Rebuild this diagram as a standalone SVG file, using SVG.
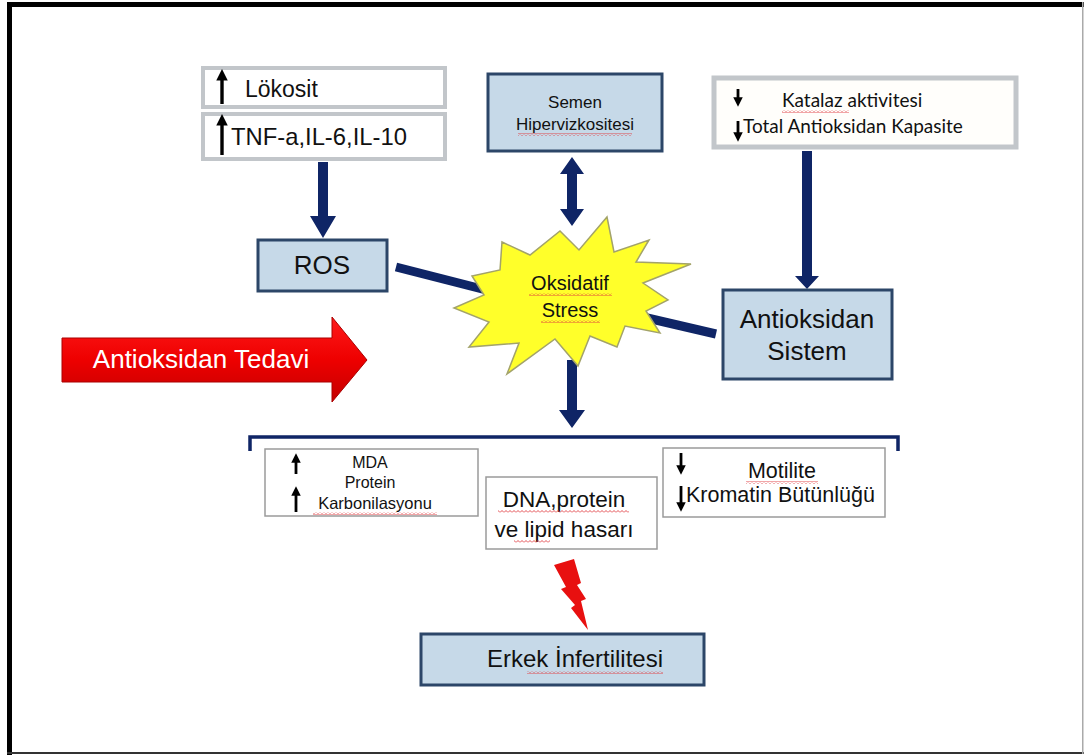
<svg xmlns="http://www.w3.org/2000/svg" width="1084" height="755" viewBox="0 0 1084 755">
<style>
.t{font-family:"Liberation Sans",Arial,sans-serif;fill:#111}
.c{font-family:Lato,"Liberation Sans",sans-serif;fill:#111}
.blue{fill:#c6d9e8;stroke:#2c4668;stroke-width:3}
.gray{fill:#fff;stroke:#c2c6ca;stroke-width:4}
.thin{fill:#fff;stroke:#9a9a9a;stroke-width:1.5}
.navy{fill:#0f2566}
.bar{stroke:#0f2566;stroke-width:9;fill:none}
.ka{stroke:#000;stroke-width:3.4;fill:none;marker-end:url(#ah)}
.kb{stroke:#000;stroke-width:2.8;fill:none;marker-end:url(#ah)}
.sq{fill:url(#squig)}
</style>
<defs>
<marker id="ah" viewBox="0 0 10 10" refX="4" refY="5" markerWidth="3.4" markerHeight="3.4" orient="auto" markerUnits="strokeWidth">
<path d="M0,0 L10,5 L0,10 Z" fill="#000"/>
</marker>
<pattern id="squig" width="4" height="3" patternUnits="userSpaceOnUse">
<path d="M0,2.5 L2,0.5 L4,2.5" stroke="#e0393e" stroke-width="0.9" fill="none"/>
</pattern>
<linearGradient id="red" x1="0" y1="0" x2="0" y2="1">
<stop offset="0" stop-color="#ff1a1a"/>
<stop offset="0.5" stop-color="#ee0000"/>
<stop offset="1" stop-color="#c40000"/>
</linearGradient>
</defs>
<rect x="0" y="0" width="1084" height="755" fill="#fff"/>
<g id="frame">
<rect x="7" y="2" width="1077" height="5" fill="#000"/>
<rect x="7" y="2" width="5" height="753" fill="#000"/>
<rect x="7" y="752" width="1077" height="2" fill="#333"/>
<rect x="1082" y="2" width="1.5" height="752" fill="#aaa"/>
</g>
<g id="connectors">
<polygon class="navy" points="318,162 328,162 328,216 336,216 323,238 310,216 318,216"/>
<polygon class="navy" points="572,157 584,174 577,174 577,209 584,209 572,226 560,209 567,209 567,174 560,174"/>
<polygon class="navy" points="802,151 812,151 812,276 819,276 807,289 795,276 802,276"/>
<polygon class="navy" points="567,360 577,360 577,410 585,410 572,428 559,410 567,410"/>
<line class="bar" x1="396" y1="267" x2="490" y2="291"/>
<line class="bar" x1="630" y1="314" x2="716" y2="334"/>
<path d="M250,451 L250,437 L898,437 L898,451" stroke="#0f2566" stroke-width="3.5" fill="none"/>
<polygon fill="#e81010" points="554,565 574,559 581,583 577,585 586,599 581,601 588,630 571,608 575,605 561,589 566,587"/>
</g>
<g id="lokosit">
<rect class="gray" x="203" y="68" width="242" height="39"/>
<line class="ka" x1="222" y1="104" x2="222" y2="76"/>
<text class="t" x="245" y="97" font-size="23">Lökosit</text>
</g>
<g id="tnf">
<rect class="gray" x="203" y="114" width="242" height="45"/>
<line class="ka" x1="222" y1="155" x2="222" y2="121"/>
<text class="t" x="231" y="145" font-size="23.8">TNF-a,IL-6,IL-10</text>
</g>
<g id="semen">
<rect class="blue" x="488" y="74" width="174" height="77"/>
<text class="t" x="575" y="108" font-size="17" text-anchor="middle">Semen</text>
<text class="t" x="575" y="130" font-size="17" text-anchor="middle">Hipervizkositesi</text>
<rect class="sq" x="518" y="133" width="114" height="3"/>
</g>
<g id="katalaz">
<rect fill="#fffefb" stroke="#c2c6ca" stroke-width="5" x="714" y="78" width="302" height="69"/>
<line class="kb" x1="738" y1="89" x2="738" y2="101"/>
<line class="kb" x1="738" y1="121" x2="738" y2="136"/>
<text class="c" x="782" y="107" font-size="19">Katalaz aktivitesi</text>
<rect class="sq" x="782" y="110" width="67" height="3"/>
<text class="c" x="743" y="133" font-size="19">Total Antioksidan Kapasite</text>
</g>
<g id="ros">
<rect class="blue" x="258" y="240" width="129" height="51"/>
<text class="t" x="322" y="274" font-size="26" text-anchor="middle">ROS</text>
</g>
<g id="stress">
<polygon fill="#ffff2a" stroke="#a3a36a" stroke-width="1.5" points="607,217 614,252 649,240 636,262 691,264 643,283 668,300 646,311 660,333 625,326 617,347 590,336 578,366 555,339 507,374 519,343 469,347 489,322 454,308 484,295 472,276 500,270 502,242 530,255 560,231 579,250"/>
<text class="t" x="570" y="290" font-size="20" text-anchor="middle">Oksidatif</text>
<rect class="sq" x="529" y="293" width="83" height="3"/>
<text class="t" x="570" y="317" font-size="20" text-anchor="middle">Stress</text>
<rect class="sq" x="541" y="320" width="59" height="3"/>
</g>
<g id="antioksidan">
<rect class="blue" x="723" y="290" width="169" height="89"/>
<text class="t" x="807" y="328" font-size="26" text-anchor="middle">Antioksidan</text>
<text class="t" x="807" y="360" font-size="26" text-anchor="middle">Sistem</text>
</g>
<g id="tedavi">
<polygon fill="url(#red)" stroke="#a00" stroke-width="1" points="62,338 332,338 332,317 367,360 332,402 332,382 62,382"/>
<text x="201" y="368" font-size="26" text-anchor="middle" style="font-family:'Liberation Sans',Arial,sans-serif;fill:#fff">Antioksidan Tedavi</text>
</g>
<g id="mda">
<rect class="thin" x="265" y="449" width="213" height="67"/>
<line class="kb" x1="296" y1="474" x2="296" y2="459"/>
<line class="kb" x1="296" y1="512" x2="296" y2="492"/>
<text class="t" x="370" y="468" font-size="16" text-anchor="middle">MDA</text>
<text class="t" x="370" y="488" font-size="16" text-anchor="middle">Protein</text>
<text class="t" x="375" y="509" font-size="16.5" text-anchor="middle">Karbonilasyonu</text>
<rect class="sq" x="313" y="512" width="124" height="3"/>
</g>
<g id="dna">
<rect class="thin" x="486" y="477" width="171" height="72"/>
<text class="t" x="564" y="507" font-size="22.5" text-anchor="middle">DNA,protein</text>
<rect class="sq" x="498" y="510" width="131" height="3"/>
<text class="t" x="564" y="537" font-size="22.5" text-anchor="middle">ve lipid hasarı</text>
<rect class="sq" x="514" y="540" width="36" height="3"/>
</g>
<g id="motilite">
<rect class="thin" x="663" y="448" width="222" height="69"/>
<line class="kb" x1="681" y1="453" x2="681" y2="469"/>
<line class="kb" x1="681" y1="486" x2="681" y2="506"/>
<text class="t" x="782" y="478" font-size="21.5" text-anchor="middle">Motilite</text>
<rect class="sq" x="746" y="481" width="72" height="3"/>
<text class="t" x="686" y="502" font-size="21.5">Kromatin Bütünlüğü</text>
</g>
<g id="erkek">
<rect class="blue" x="421" y="634" width="283" height="51"/>
<text class="t" x="575" y="667" font-size="24" text-anchor="middle">Erkek İnfertilitesi</text>
<rect class="sq" x="527" y="671" width="136" height="3"/>
</g>
</svg>
